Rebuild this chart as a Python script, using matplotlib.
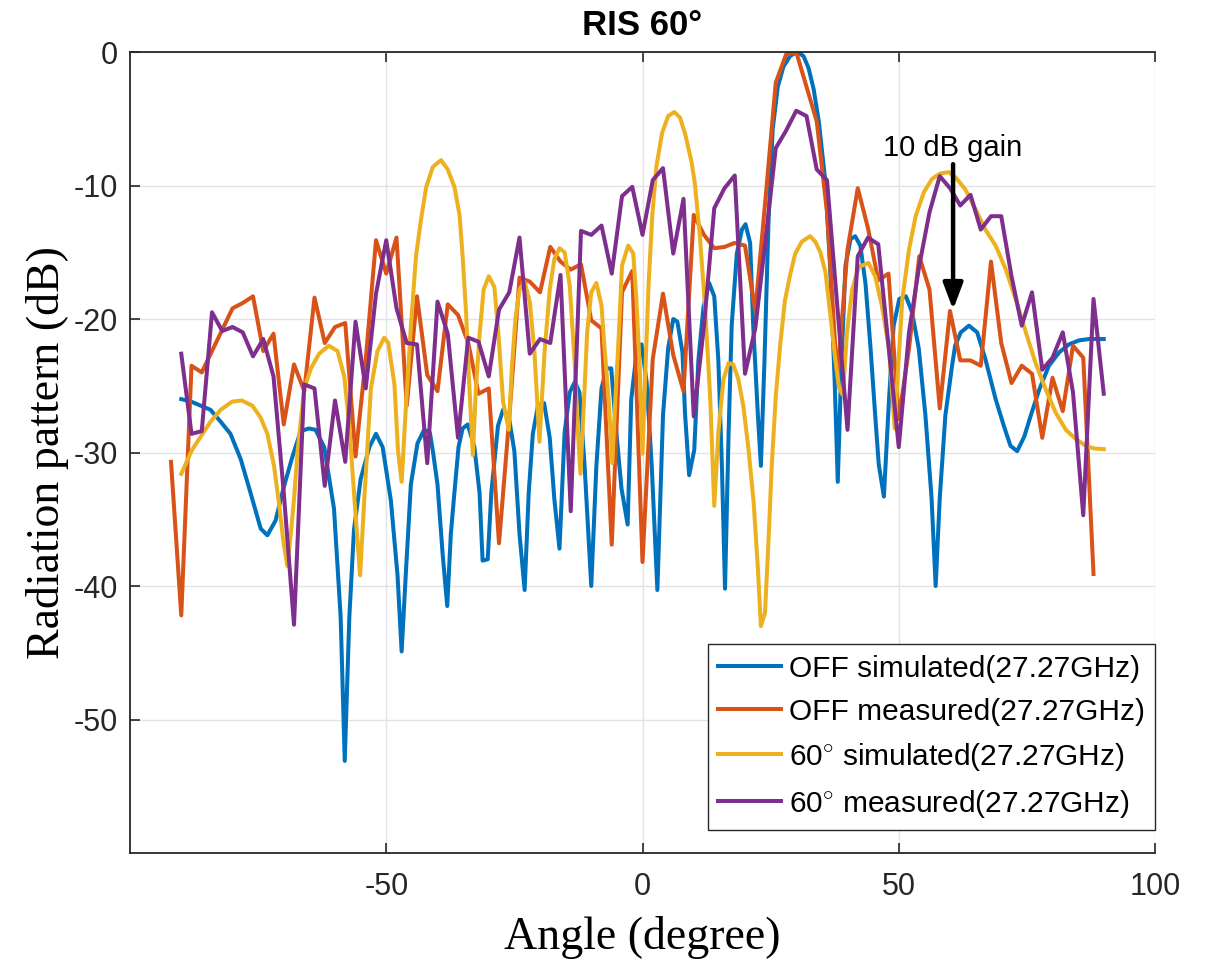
import numpy as np
import matplotlib
matplotlib.use('Agg')
import matplotlib.pyplot as plt

plt.rcParams['font.family'] = ['Liberation Sans', 'DejaVu Sans']
plt.rcParams['mathtext.fontset'] = 'custom'
plt.rcParams['mathtext.rm'] = 'Liberation Sans'
plt.rcParams['axes.unicode_minus'] = False

# %% data
# OFF simulated (smooth curve, irregular angle samples)
off_sim_ang = [-90, -88, -84.3, -82.3, -80.4, -78.4, -76.5, -74.5, -73.2, -71.6,
               -70.0, -68.3, -66.7, -65.1, -63.8, -62.1, -60.2, -58.9, -58.1, -57.2,
               -56.3, -55.0, -53.3, -52.0, -50.7, -49.1, -47.8, -47.0, -46.2, -45.2,
               -43.9, -42.6, -41.5, -40.9, -40.0, -39.0, -38.1, -37.4, -36.7, -35.9,
               -35.1, -34.1, -32.8, -31.8, -31.2, -30.2, -29.5, -28.2, -27.2, -26.1,
               -25.0, -24.0, -23.0, -22.2, -21.4, -20.4, -19.2, -18.1, -17.2, -16.2,
               -15.2, -14.2, -13.2, -12.3, -11.3, -10.0, -9.0, -8.0, -7.0, -6.1,
               -5.1, -4.1, -2.9, -2.2, -1.2, -0.2, 0.8, 1.8, 2.9, 4.0,
               5.0, 6.0, 6.8, 7.8, 8.3, 9.1, 10.1, 10.9, 11.9, 13.0,
               14.0, 14.8, 15.5, 16.1, 16.8, 17.4, 18.4, 19.4, 20.1, 21.0,
               21.6, 22.5, 23.1, 23.8, 24.6, 25.4, 26.4, 27.5, 28.8, 30.1,
               31.4, 32.4, 33.4, 34.4, 35.7, 36.6, 37.5, 38.1, 38.8, 39.6,
               40.6, 41.5, 42.5, 43.5, 44.5, 45.4, 46.1, 47.1, 48.1, 49.0,
               50.1, 51.4, 52.6, 53.9, 55.2, 56.4, 57.2, 58.0, 59.1, 60.4,
               61.0, 62.1, 63.7, 65.3, 66.9, 68.9, 70.5, 71.8, 73.1, 74.5,
               75.7, 77.4, 79.3, 81.3, 83.2, 85.2, 87.2, 90.0]
off_sim_db = [-26.0, -26.2, -26.8, -27.7, -28.6, -30.5, -33.0, -35.7, -36.2, -35.1,
              -32.6, -30.3, -28.4, -28.2, -28.3, -29.6, -34.2, -42.3, -53.1, -42.3,
              -35.8, -32.0, -29.6, -28.6, -29.6, -33.6, -39.2, -44.9, -39.2, -32.4,
              -29.3, -28.3, -28.5, -29.9, -32.4, -37.6, -41.5, -36.1, -33.0, -29.6,
              -28.2, -27.9, -29.6, -33.0, -38.1, -38.0, -33.0, -28.0, -26.8, -27.3,
              -29.9, -36.1, -40.3, -33.0, -28.6, -26.5, -26.3, -28.9, -33.5, -37.2,
              -28.5, -25.5, -24.7, -25.5, -31.0, -40.0, -31.0, -25.2, -23.7, -23.7,
              -28.5, -32.7, -35.4, -26.0, -22.7, -21.9, -24.7, -31.0, -40.3, -27.2,
              -22.2, -20.0, -20.2, -22.5, -27.1, -31.7, -29.8, -23.1, -19.1, -17.3,
              -18.3, -23.1, -31.1, -40.2, -28.5, -20.5, -15.1, -13.3, -12.9, -14.3,
              -20.5, -27.1, -31.0, -23.1, -12.5, -5.8, -2.6, -1.1, -0.3, 0.0,
              -0.3, -1.2, -2.8, -5.2, -9.8, -16.0, -24.7, -32.2, -23.5, -16.0,
              -14.0, -13.8, -14.5, -17.3, -22.2, -27.2, -30.9, -33.3, -26.0, -20.5,
              -18.5, -18.3, -19.5, -22.2, -27.2, -33.4, -40.0, -33.4, -27.2, -23.5,
              -22.0, -21.0, -20.5, -21.0, -23.0, -26.0, -28.0, -29.5, -29.9, -28.8,
              -27.3, -25.3, -23.5, -22.5, -21.9, -21.6, -21.5, -21.5]

# OFF measured, 2 degree steps
off_meas_ang = np.arange(-92, 89, 2)
off_meas_db = [-30.7, -42.2, -23.5, -24.0, -22.4, -20.8, -19.2, -18.8, -18.3, -22.4,
               -21.1, -27.9, -23.4, -25.4, -18.4, -21.8, -20.6, -20.3, -30.3, -23.0,
               -14.1, -16.6, -13.9, -26.5, -18.3, -24.2, -25.4, -18.9, -19.7, -21.8,
               -25.6, -25.2, -36.8, -27.4, -16.9, -17.2, -18.0, -14.6, -15.7, -16.3,
               -15.9, -20.1, -20.7, -36.9, -18.0, -16.4, -38.2, -23.0, -18.1, -22.7,
               -25.4, -12.2, -13.7, -14.7, -14.6, -14.3, -14.5, -19.4, -11.0, -2.3,
               -0.2, 0.0, -2.6, -5.2, -12.0, -24.5, -14.8, -10.2, -13.2, -17.1,
               -16.6, -27.5, -22.2, -15.3, -17.8, -26.7, -19.4, -23.1, -23.1, -23.5,
               -15.7, -21.8, -24.8, -23.5, -24.1, -28.9, -24.4, -26.9, -22.0, -22.9,
               -39.1]

# 60 deg simulated (smooth curve, irregular angle samples)
ris_sim_ang = [-90, -87.9, -84.3, -82.3, -80.1, -78.2, -76.1, -74.5, -73.2, -71.9,
               -70.9, -70.1, -69.3, -68.6, -68.0, -67.3, -66.0, -64.7, -63.1, -61.2,
               -59.5, -58.2, -57.2, -56.3, -55.6, -55.1, -54.3, -53.0, -51.7, -50.4,
               -49.6, -48.4, -47.7, -47.0, -46.2, -45.2, -44.2, -43.2, -42.2, -40.9,
               -39.3, -38.0, -36.7, -35.7, -35.1, -34.4, -33.8, -33.1, -32.5, -31.8,
               -31.0, -30.0, -28.9, -28.1, -27.2, -26.1, -25.5, -24.8, -24.0, -23.0,
               -22.0, -21.1, -20.1, -19.1, -18.1, -17.2, -16.2, -15.2, -14.2, -13.2,
               -12.6, -12.1, -11.4, -10.8, -10.0, -9.0, -8.0, -7.4, -6.6, -5.9,
               -5.3, -4.6, -4.0, -2.8, -1.8, -1.2, -0.5, 0.0, 0.6, 1.2,
               1.9, 2.7, 3.8, 5.0, 6.2, 7.3, 8.3, 9.6, 10.2, 11.2,
               12.2, 13.2, 14.0, 14.8, 15.8, 16.8, 17.7, 18.7, 19.7, 20.7,
               21.7, 22.5, 23.1, 23.9, 24.6, 25.2, 26.0, 26.9, 27.8, 28.8,
               29.8, 31.1, 32.7, 33.7, 34.7, 35.7, 36.6, 37.6, 38.4, 39.1,
               39.9, 40.9, 42.2, 44.1, 45.4, 46.7, 48.1, 49.2, 49.9, 50.7,
               52.0, 53.3, 54.9, 56.5, 58.1, 59.8, 61.1, 63.0, 65.0, 66.9,
               68.9, 70.9, 72.8, 74.8, 76.7, 78.7, 80.6, 82.6, 84.6, 86.5,
               88.1, 90.0]
ris_sim_db = [-31.6, -29.8, -27.7, -26.8, -26.2, -26.1, -26.5, -27.4, -28.6, -31.0,
              -33.9, -36.6, -38.5, -36.0, -33.5, -29.9, -25.2, -23.7, -22.6, -22.0,
              -22.4, -24.3, -28.0, -33.0, -36.7, -39.2, -33.6, -25.2, -22.4, -21.4,
              -21.8, -24.9, -29.9, -32.2, -26.8, -20.6, -15.3, -12.5, -10.1, -8.6,
              -8.1, -8.8, -10.1, -12.2, -15.3, -19.7, -24.9, -30.2, -25.2, -21.2,
              -17.8, -16.8, -17.6, -21.2, -26.2, -28.3, -23.7, -20.0, -17.8, -17.2,
              -18.7, -22.4, -29.2, -22.4, -17.8, -15.5, -14.7, -15.0, -17.5, -23.5,
              -28.5, -31.6, -26.0, -21.0, -18.0, -17.3, -19.0, -22.2, -26.0, -30.8,
              -26.0, -21.0, -16.0, -14.5, -15.1, -18.5, -24.0, -30.1, -23.5, -17.3,
              -12.3, -8.6, -6.1, -4.8, -4.5, -4.9, -6.1, -8.3, -9.8, -13.8,
              -19.1, -25.8, -34.0, -28.5, -24.5, -23.3, -23.4, -24.5, -26.6, -29.8,
              -33.8, -38.6, -43.0, -42.0, -36.5, -31.1, -25.8, -21.8, -18.6, -16.7,
              -15.1, -14.2, -13.8, -14.2, -15.0, -16.5, -19.5, -23.0, -25.2, -25.7,
              -21.0, -17.8, -16.1, -15.8, -16.8, -19.0, -22.2, -28.2, -23.5, -18.5,
              -14.8, -12.3, -10.5, -9.5, -9.1, -9.0, -9.4, -10.3, -11.8, -13.3,
              -14.5, -16.3, -18.5, -21.0, -23.3, -25.3, -27.0, -28.3, -29.0, -29.5,
              -29.7, -29.75]

# 60 deg measured, 2 degree steps
ris_meas_ang = np.arange(-90, 91, 2)
ris_meas_db = [-22.6, -28.6, -28.4, -19.5, -20.9, -20.6, -21.0, -22.8, -21.5, -24.3,
               -33.0, -42.9, -24.9, -25.2, -32.5, -26.1, -30.7, -20.2, -25.2, -18.1,
               -14.1, -19.2, -21.8, -21.9, -30.8, -18.7, -21.1, -28.9, -21.4, -21.7,
               -24.3, -19.3, -18.0, -13.9, -22.6, -21.5, -21.8, -16.7, -34.4, -13.4,
               -13.7, -13.0, -16.6, -10.8, -10.1, -13.7, -9.6, -8.7, -15.1, -11.0,
               -27.3, -20.5, -11.7, -10.2, -9.25, -24.1, -20.7, -14.1, -7.2, -5.9,
               -4.4, -4.8, -8.8, -9.6, -19.0, -28.3, -15.3, -13.9, -14.4, -22.0,
               -29.6, -21.0, -16.0, -12.0, -9.3, -10.2, -11.5, -10.7, -13.3, -12.3,
               -12.3, -16.8, -20.5, -18.0, -23.8, -22.9, -21.0, -25.5, -34.7, -18.5,
               -25.6]

labels = ['OFF simulated(27.27GHz)', 'OFF measured(27.27GHz)',
          r'60$^{\circ}$ simulated(27.27GHz)', r'60$^{\circ}$ measured(27.27GHz)']
colors = ['#0072BD', '#D95319', '#EDB120', '#7E2F8E']

gain_ang = 60.6
gain_from = -8.4
gain_to = -19.3

# %% plot
fig = plt.figure(figsize=(12.1, 9.65), dpi=100)
ax = fig.add_axes([0.10744, 0.11606, 0.84711, 0.83005])

series = [(off_sim_ang, off_sim_db), (off_meas_ang, off_meas_db),
          (ris_sim_ang, ris_sim_db), (ris_meas_ang, ris_meas_db)]
for (a, d), lab, c in zip(series, labels, colors):
    ax.plot(a, d, color=c, lw=2.9, label=lab)

ax.set_xlim(-100, 100)
ax.set_ylim(-60, 0)
ax.set_xticks([-50, 0, 50, 100])
ax.set_yticks([-50, -40, -30, -20, -10, 0])
ax.grid(True, color='#e3e3e3', lw=1)
ax.set_axisbelow(True)
ax.tick_params(direction='in', length=7, width=1.2, colors='#262626',
               labelsize=22, top=True)
ax.tick_params(axis='x', pad=14)
ax.tick_params(axis='y', pad=9)
for side in ['left', 'bottom', 'top']:
    ax.spines[side].set_color('#262626')
    ax.spines[side].set_linewidth(1.3)
ax.spines['right'].set_visible(False)

ax.set_xlabel('Angle (degree)', family='Liberation Serif', fontsize=33, labelpad=10)
ax.set_ylabel('Radiation pattern (dB)', family='Liberation Serif', fontsize=33, labelpad=3)
ax.set_title('RIS 60°', fontsize=25, fontweight='bold', pad=12)

ax.annotate('', xy=(gain_ang, gain_to), xytext=(gain_ang, gain_from),
            arrowprops=dict(arrowstyle='-|>,head_length=0.8,head_width=0.3',
                            lw=3.2, color='k', mutation_scale=20,
                            shrinkA=0, shrinkB=0))
ax.text(gain_ang, -7.8, '10 dB gain', ha='center', va='baseline', fontsize=21)

leg = ax.legend(loc='lower right', bbox_to_anchor=(1.0, 0.0287), borderaxespad=0,
                fontsize=21.5, fancybox=False, framealpha=1, edgecolor='#262626',
                handlelength=2.1, handletextpad=0.25, borderpad=0.35, labelspacing=0.5)
leg.get_frame().set_linewidth(1)

fig.savefig('out.png', dpi=100)
